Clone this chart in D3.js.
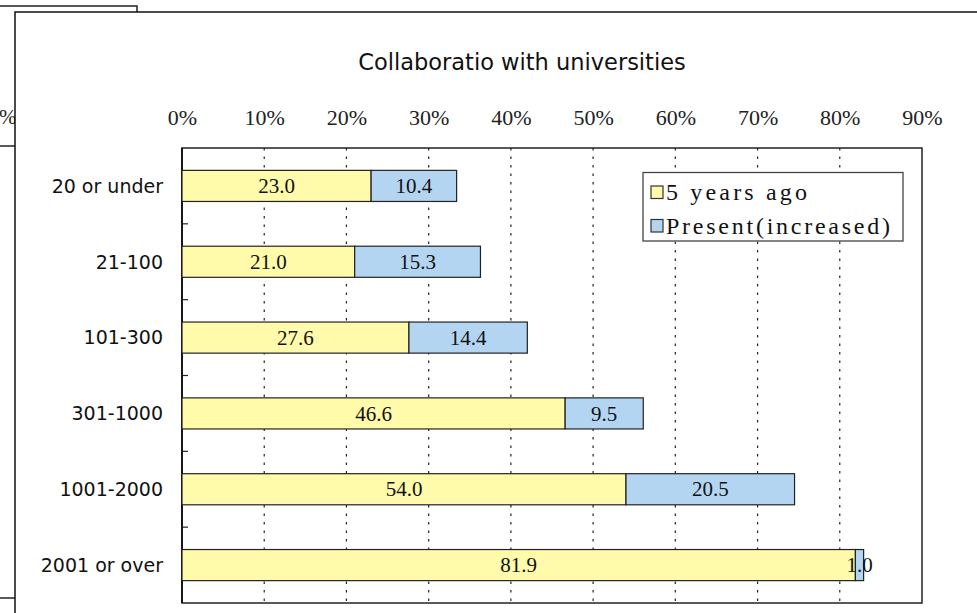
<!DOCTYPE html>
<html>
<head>
<meta charset="utf-8">
<script src="https://cdn.jsdelivr.net/npm/d3@7"></script>
<style>
  body { margin: 0; background: #fff; }
  svg { display: block; }
</style>
</head>
<body>
<svg width="977" height="613"></svg>
<script>
// data
const categories = ["20 or under", "21-100", "101-300", "301-1000", "1001-2000", "2001 or over"];
const fiveYearsAgo = [23.0, 21.0, 27.6, 46.6, 54.0, 81.9];
const presentIncreased = [10.4, 15.3, 14.4, 9.5, 20.5, 1.0];
const seriesNames = ["5 years ago", "Present(increased)"];
const xTicks = [0, 10, 20, 30, 40, 50, 60, 70, 80, 90];
const colors = ["#fffbab", "#b3d5f2"];

const svg = d3.select("svg"),
      width = +svg.attr("width"),
      height = +svg.attr("height");

const plot = {left: 182, right: 922, top: 148, bottom: 603};

// the chart hidden behind (only its edges show)
svg.append("path")
    .attr("d", "M0,6 H137 V12")
    .attr("fill", "none").attr("stroke", "#222").attr("stroke-width", 1.5);
svg.append("line").attr("x1", 0).attr("x2", 15).attr("y1", 146).attr("y2", 146)
    .attr("stroke", "#222").attr("stroke-width", 1.5);
svg.append("line").attr("x1", 0).attr("x2", 15).attr("y1", 598).attr("y2", 598)
    .attr("stroke", "#222").attr("stroke-width", 1.5);
svg.append("text")
    .attr("x", -1).attr("y", 124)
    .attr("font-family", "Liberation Serif").attr("font-size", 21)
    .attr("fill", "#222")
    .text("%");

// front frame
svg.append("rect")
    .attr("x", 15).attr("y", 12)
    .attr("width", width + 20).attr("height", height + 20)
    .attr("fill", "#fff").attr("stroke", "#111").attr("stroke-width", 1.5);

const x = d3.scaleLinear().domain([0, 90]).range([plot.left, plot.right]);
const y = d3.scaleBand().domain(categories).range([plot.top, plot.bottom])
    .paddingInner(0.59).paddingOuter(0.295);

// title
svg.append("text")
    .attr("x", 522).attr("y", 70)
    .attr("text-anchor", "middle")
    .attr("font-family", "DejaVu Sans").attr("font-size", 22.5)
    .attr("fill", "#111")
    .text("Collaboratio with universities");

// plot border
svg.append("rect")
    .attr("x", plot.left).attr("y", plot.top)
    .attr("width", plot.right - plot.left).attr("height", plot.bottom - plot.top)
    .attr("fill", "#fff").attr("stroke", "#222").attr("stroke-width", 1.5);

// dotted gridlines
svg.append("g")
    .selectAll("line")
    .data(xTicks.filter(d => d > 0 && d < 90))
    .enter().append("line")
    .attr("x1", d => x(d)).attr("x2", d => x(d))
    .attr("y1", plot.top).attr("y2", plot.bottom)
    .attr("stroke", "#222").attr("stroke-width", 1.2)
    .attr("stroke-dasharray", "2.5,6");

// x axis labels on top
const xAxis = d3.axisTop(x).tickValues(xTicks).tickFormat(d => d + "%").tickSize(0).tickPadding(0);
const gx = svg.append("g").attr("transform", "translate(0,125)").call(xAxis);
gx.select(".domain").remove();
gx.selectAll("text")
    .attr("font-family", "Liberation Serif").attr("font-size", 22)
    .attr("fill", "#222").attr("dy", 0);

// left axis: ticks at band boundaries, pointing inward
const step = y.step();
svg.append("g")
    .selectAll("line")
    .data(d3.range(1, categories.length))
    .enter().append("line")
    .attr("x1", plot.left).attr("x2", plot.left + 6)
    .attr("y1", i => plot.top + i * step).attr("y2", i => plot.top + i * step)
    .attr("stroke", "#222").attr("stroke-width", 1.2);

svg.append("line")
    .attr("x1", plot.left).attr("x2", plot.left)
    .attr("y1", plot.top).attr("y2", plot.bottom)
    .attr("stroke", "#111").attr("stroke-width", 1.8);

svg.append("g")
    .selectAll("text")
    .data(categories)
    .enter().append("text")
    .attr("x", 163)
    .attr("y", d => y(d) + y.bandwidth() / 2)
    .attr("dy", "0.36em")
    .attr("text-anchor", "end")
    .attr("font-family", "DejaVu Sans").attr("font-size", 19)
    .attr("fill", "#111")
    .text(d => d);

// stacked bars
const rows = categories.map((c, i) => ({cat: c, a: fiveYearsAgo[i], b: presentIncreased[i]}));

const bars = svg.append("g");
bars.selectAll("rect.a")
    .data(rows)
    .enter().append("rect")
    .attr("class", "a")
    .attr("x", x(0)).attr("y", d => y(d.cat))
    .attr("width", d => x(d.a) - x(0)).attr("height", y.bandwidth())
    .attr("fill", colors[0]).attr("stroke", "#222").attr("stroke-width", 1.2);
bars.selectAll("rect.b")
    .data(rows)
    .enter().append("rect")
    .attr("class", "b")
    .attr("x", d => x(d.a)).attr("y", d => y(d.cat))
    .attr("width", d => x(d.a + d.b) - x(d.a)).attr("height", y.bandwidth())
    .attr("fill", colors[1]).attr("stroke", "#222").attr("stroke-width", 1.2);

// value labels
const labels = svg.append("g")
    .attr("font-family", "Liberation Serif").attr("font-size", 21)
    .attr("fill", "#111").attr("text-anchor", "middle");
labels.selectAll("text.a")
    .data(rows)
    .enter().append("text")
    .attr("x", d => x(d.a / 2))
    .attr("y", d => y(d.cat) + y.bandwidth() / 2)
    .attr("dy", "0.34em")
    .text(d => d.a.toFixed(1));
labels.selectAll("text.b")
    .data(rows)
    .enter().append("text")
    .attr("x", d => x(d.a + d.b / 2))
    .attr("y", d => y(d.cat) + y.bandwidth() / 2)
    .attr("dy", "0.34em")
    .text(d => d.b.toFixed(1));

// legend
const legend = svg.append("g");
legend.append("rect")
    .attr("x", 643).attr("y", 172.5).attr("width", 260).attr("height", 68.5)
    .attr("fill", "#fff").attr("stroke", "#444").attr("stroke-width", 1.3);
const legendWidths = [141, 224];
seriesNames.forEach((name, i) => {
  const ly = 186 + i * 33.5;
  legend.append("rect")
      .attr("x", 651).attr("y", ly).attr("width", 12).attr("height", 12.5)
      .attr("fill", colors[i]).attr("stroke", "#333").attr("stroke-width", 1.2);
  legend.append("text")
      .attr("x", 666).attr("y", ly + 14)
      .attr("font-family", "Liberation Serif").attr("font-size", 24)
      .attr("fill", "#111")
      .attr("textLength", legendWidths[i]).attr("lengthAdjust", "spacing")
      .text(name);
});
</script>
</body>
</html>
